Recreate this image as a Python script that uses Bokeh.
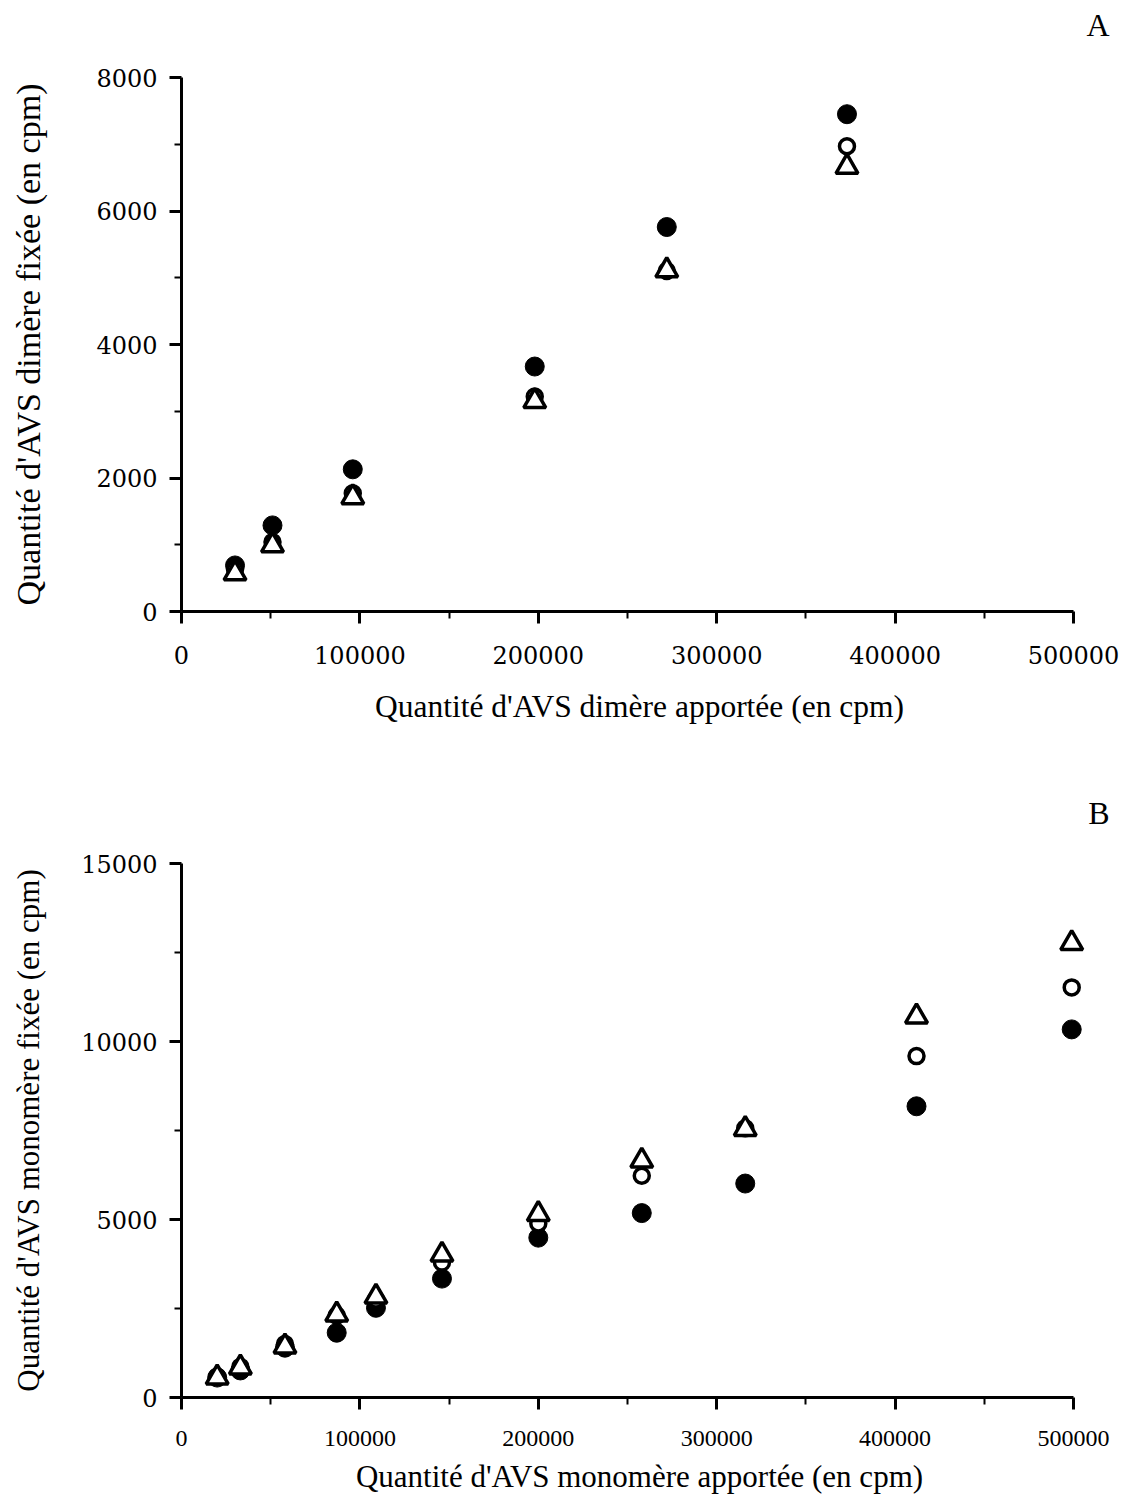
from bokeh.plotting import figure
from bokeh.layouts import column
from bokeh.models import Range1d, FixedTicker, BasicTickFormatter, Title
from bokeh.embed import file_html
from bokeh.resources import INLINE

# ---------------- data ----------------
# Panel A : AVS dimère
xA = [30000, 51000, 96000, 198000, 272000, 373000]
A_filled = [690, 1290, 2130, 3670, 5760, 7450]
A_open = [630, 1040, 1770, 3220, 5100, 6970]
A_tri = [570, 990, 1710, 3150, 5110, 6660]

# Panel B : AVS monomère
xB = [20000, 33000, 58000, 87000, 109000, 146000, 200000, 258000, 316000, 412000, 499000]
B_filled = [560, 760, 1400, 1820, 2520, 3340, 4490, 5180, 6010, 8180, 10340]
B_open = [590, 860, 1500, 2300, 2750, 3790, 4890, 6230, 7560, 9590, 11520]
B_tri = [560, 840, 1430, 2330, 2830, 4010, 5150, 6650, 7540, 10700, 12760]

x_ticks = [0, 100000, 200000, 300000, 400000, 500000]
x_minor = [50000, 150000, 250000, 350000, 450000]
yA_ticks = [0, 2000, 4000, 6000, 8000]
yA_minor = [1000, 3000, 5000, 7000]
yB_ticks = [0, 5000, 10000, 15000]
yB_minor = [2500, 7500, 12500]

SERIF = "Liberation Serif"
WIDE = "DejaVu Serif"


def style_axes(p, xfont, xsize, xstand, xlab_size, xlab_stand,
               yfont, ysize, ystand, ylab_size, ylab_stand):
    for ax in (p.xaxis[0], p.yaxis[0]):
        ax.axis_line_width = 3
        ax.axis_line_color = "black"
        ax.major_tick_out = 12
        ax.major_tick_in = 0
        ax.minor_tick_out = 7
        ax.minor_tick_in = 0
        ax.major_tick_line_width = 3
        ax.minor_tick_line_width = 2
        ax.major_tick_line_color = "black"
        ax.minor_tick_line_color = "black"
        ax.major_label_text_color = "black"
        ax.axis_label_text_color = "black"
        ax.axis_label_text_font_style = "normal"
        ax.formatter = BasicTickFormatter(use_scientific=False)
    xa = p.xaxis[0]
    xa.major_label_text_font = xfont
    xa.major_label_text_font_size = xsize
    xa.major_label_standoff = xstand
    xa.axis_label_text_font = SERIF
    xa.axis_label_text_font_size = xlab_size
    xa.axis_label_standoff = xlab_stand
    ya = p.yaxis[0]
    ya.major_label_text_font = yfont
    ya.major_label_text_font_size = ysize
    ya.major_label_standoff = ystand
    ya.axis_label_text_font = SERIF
    ya.axis_label_text_font_size = ylab_size
    ya.axis_label_standoff = ylab_stand


def add_points(p, x, filled, opened, tri):
    p.scatter(x, filled, marker="circle", size=19, fill_color="black",
              line_color="black", line_width=1)
    p.scatter(x, opened, marker="circle", size=15, fill_color="white",
              line_color="black", line_width=3.5)
    p.scatter(x, tri, marker="triangle", size=22, fill_color="white",
              line_color="black", line_width=3.5)


def panel_title(letter, standoff):
    return Title(text=letter, align="right", offset=-12, standoff=standoff,
                 text_font=SERIF, text_font_size="32px",
                 text_font_style="normal", text_color="black")


# ---------------- panel A ----------------
pA = figure(width=1128, height=740, output_backend="svg", toolbar_location=None,
            title=None, x_range=Range1d(0, 513423),
            y_range=Range1d(0, 8000),
            min_border_left=179, min_border_right=31, min_border_top=77,
            min_border_bottom=129, background_fill_color="white",
            border_fill_color="white", outline_line_color=None)
pA.grid.visible = False
pA.xaxis.ticker = FixedTicker(ticks=x_ticks, minor_ticks=x_minor)
pA.yaxis.ticker = FixedTicker(ticks=yA_ticks, minor_ticks=yA_minor)
pA.xaxis.bounds = (0, 500000)
pA.xaxis.axis_label = "Quantité d'AVS dimère apportée (en cpm)"
pA.yaxis.axis_label = "Quantité d'AVS dimère fixée (en cpm)"
style_axes(pA, WIDE, "24px", 22, "31.5px", 22, WIDE, "24px", 12, "34px", 46)
add_points(pA, xA, A_filled, A_open, A_tri)
# spacer panel next to the frame, then the panel letter above it
pA.add_layout(Title(text=" ", text_font_size="10px", standoff=22,
                    text_color="white"), "above")
pA.add_layout(panel_title("A", 0), "above")

# ---------------- panel B ----------------
pB = figure(width=1128, height=756, output_backend="svg", toolbar_location=None,
            title=panel_title("B", 66), x_range=Range1d(0, 513453),
            y_range=Range1d(0, 15000),
            min_border_left=181, min_border_right=31, min_border_top=123,
            min_border_bottom=98, background_fill_color="white",
            border_fill_color="white", outline_line_color=None)
pB.grid.visible = False
pB.xaxis.ticker = FixedTicker(ticks=x_ticks, minor_ticks=x_minor)
pB.yaxis.ticker = FixedTicker(ticks=yB_ticks, minor_ticks=yB_minor)
pB.xaxis.bounds = (0, 500000)
pB.xaxis.axis_label = "Quantité d'AVS monomère apportée (en cpm)"
pB.yaxis.axis_label = "Quantité d'AVS monomère fixée (en cpm)"
style_axes(pB, SERIF, "24px", 21, "31px", 10, WIDE, "24px", 12, "31px", 32)
add_points(pB, xB, B_filled, B_open, B_tri)

layout = column(pA, pB, spacing=0)
open("out.html", "w").write(file_html(layout, INLINE))
